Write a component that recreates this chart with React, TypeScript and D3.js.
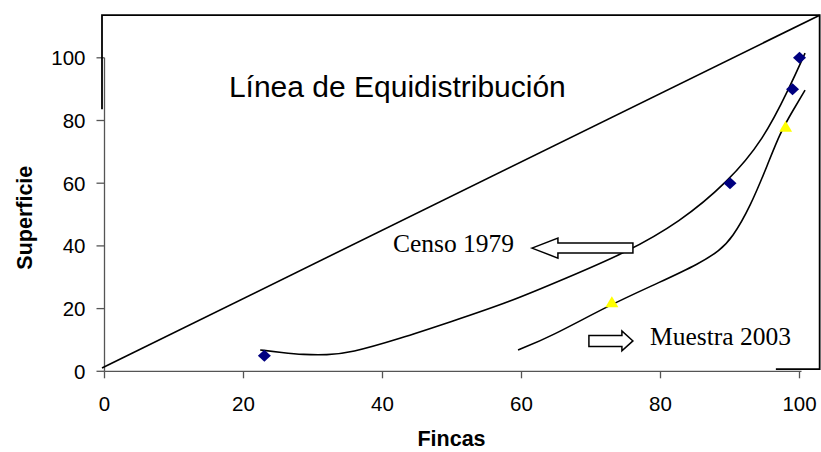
import React from "react";
import * as d3 from "d3";

const xTicks = [0, 20, 40, 60, 80, 100];
const yTicks = [0, 20, 40, 60, 80, 100];

// Censo 1979 points (Fincas %, Superficie %)
const censoX = [23, 90, 99, 100];
const censoY = [5, 60, 90, 100];
// Muestra 2003 points
const muestraX = [73, 98];
const muestraY = [22, 78];

// hand-drawn trend curves
const censoCurveX = [22.4, 25.5, 28.6, 32, 35.3, 42.5, 49.7, 58.3, 66.5, 74.9, 82.8, 89.7, 94.8, 98.6, 100.8];
const censoCurveY = [6.8, 6.0, 5.3, 5.2, 5.8, 10.4, 15.7, 22.1, 29.8, 37.7, 47.6, 60.4, 73.8, 90.7, 101.5];
const muestraCurveX = [59.5, 64.1, 72.7, 80, 85.7, 88.5, 90.3, 92.9, 95.5, 97.2, 99, 100.8];
const muestraCurveY = [6.8, 10.9, 21.2, 28.5, 34.5, 38.5, 42.5, 52.4, 66.4, 76.0, 83, 89.7];

// equidistribution line (box diagonal)
const equiX = [-0.36, 102.9];
const equiY = [1.05, 113.6];

const W = 821;
const H = 452;

export default function App() {
  const x = d3.scaleLinear().domain([0, 100]).range([104.5, 799.5]);
  const y = d3.scaleLinear().domain([0, 100]).range([371.3, 57.8]);

  const line = d3
    .line<[number, number]>()
    .x((d) => x(d[0]))
    .y((d) => y(d[1]))
    .curve(d3.curveBasis);

  const censoCurve = line(censoCurveX.map((v, i) => [v, censoCurveY[i]]));
  const muestraCurve = line(muestraCurveX.map((v, i) => [v, muestraCurveY[i]]));

  const boxL = x(equiX[0]);
  const boxR = x(equiX[1]);
  const boxT = y(equiY[1]);

  const axisColor = "#555";
  const sans = "'Liberation Sans', Arial, sans-serif";
  const serif = "'Liberation Serif', 'Times New Roman', serif";

  // arrows anchored in data space
  const cTipX = x(61.5), cTipY = y(39.3);
  const censoArrow = [
    [cTipX, cTipY],
    [cTipX + 26, cTipY - 10],
    [cTipX + 26, cTipY - 5],
    [cTipX + 101, cTipY - 5],
    [cTipX + 101, cTipY + 5],
    [cTipX + 26, cTipY + 5],
    [cTipX + 26, cTipY + 10],
  ];
  const mLX = x(69.7), mY = y(9.7);
  const muestraArrow = [
    [mLX, mY - 5.5],
    [mLX + 33, mY - 5.5],
    [mLX + 33, mY - 10],
    [mLX + 44, mY],
    [mLX + 33, mY + 10],
    [mLX + 33, mY + 5.5],
    [mLX, mY + 5.5],
  ];

  const diamond = "M0,-6 L6.5,0 L0,6 L-6.5,0 Z";
  const triangle = "M0,-6 L6.5,5 L-6.5,5 Z";

  return (
    <svg width={W} height={H} style={{ position: "absolute", left: 0, top: 0, background: "#fff" }}>
      <rect x={0} y={0} width={W} height={H} fill="#fff" />
      {/* axes */}
      <line x1={x(0)} x2={x(100) + 2} y1={y(0)} y2={y(0)} stroke={axisColor} strokeWidth={1.3} />
      <line x1={x(0)} x2={x(0)} y1={y(0)} y2={y(100)} stroke={axisColor} strokeWidth={1.3} />
      {xTicks.map((t) => (
        <g key={"xt" + t}>
          <line x1={x(t)} x2={x(t)} y1={y(0)} y2={y(0) + 7} stroke={axisColor} strokeWidth={1.3} />
          <text x={x(t)} y={y(0) + 40} textAnchor="middle" fontFamily={sans} fontSize={20.5} fill="#000">
            {t}
          </text>
        </g>
      ))}
      {yTicks.map((t) => (
        <g key={"yt" + t}>
          <line x1={x(0) - 8} x2={x(0)} y1={y(t)} y2={y(t)} stroke={axisColor} strokeWidth={1.3} />
          <text x={x(0) - 19} y={y(t) + 7.5} textAnchor="end" fontFamily={sans} fontSize={20.5} fill="#000">
            {t}
          </text>
        </g>
      ))}
      <text x={x(50) - 0.5} y={446} textAnchor="middle" fontFamily={sans} fontWeight="bold" fontSize={21.5} fill="#000">
        Fincas
      </text>
      <text
        transform={`translate(32,${y(49)}) rotate(-90)`}
        textAnchor="middle"
        fontFamily={sans}
        fontWeight="bold"
        fontSize={21.5}
        fill="#000"
      >
        Superficie
      </text>

      {/* hand-drawn box */}
      <path
        d={`M${boxL},${y(83.6)} L${boxL},${boxT} L${boxR},${boxT} L${boxR},${y(0.7)} L${x(96.6)},${y(0.7)}`}
        fill="none"
        stroke="#000"
        strokeWidth={1.8}
      />
      <line x1={x(equiX[0])} y1={y(equiY[0])} x2={x(equiX[1])} y2={y(equiY[1])} stroke="#000" strokeWidth={1.6} />

      {/* curves */}
      <path d={censoCurve || ""} fill="none" stroke="#000" strokeWidth={1.6} />
      <path d={muestraCurve || ""} fill="none" stroke="#000" strokeWidth={1.6} />

      {/* markers */}
      {censoX.map((v, i) => (
        <path key={"c" + i} d={diamond} transform={`translate(${x(v)},${y(censoY[i])})`} fill="#000080" />
      ))}
      {muestraX.map((v, i) => (
        <path key={"m" + i} d={triangle} transform={`translate(${x(v)},${y(muestraY[i])})`} fill="#ffff00" />
      ))}

      {/* annotations */}
      <text x={x(17.9)} y={y(87.5)} fontFamily={sans} fontSize={30} fill="#000">
        Línea de Equidistribución
      </text>
      <text x={x(41.5)} y={y(38)} fontFamily={serif} fontSize={25.5} fill="#000">
        Censo 1979
      </text>
      <text x={x(78.5)} y={y(8.4)} fontFamily={serif} fontSize={25.5} fill="#000">
        Muestra 2003
      </text>
      <polygon points={censoArrow.map((p) => p.join(",")).join(" ")} fill="#fff" stroke="#000" strokeWidth={1.5} />
      <polygon points={muestraArrow.map((p) => p.join(",")).join(" ")} fill="#fff" stroke="#000" strokeWidth={1.5} />
    </svg>
  );
}
